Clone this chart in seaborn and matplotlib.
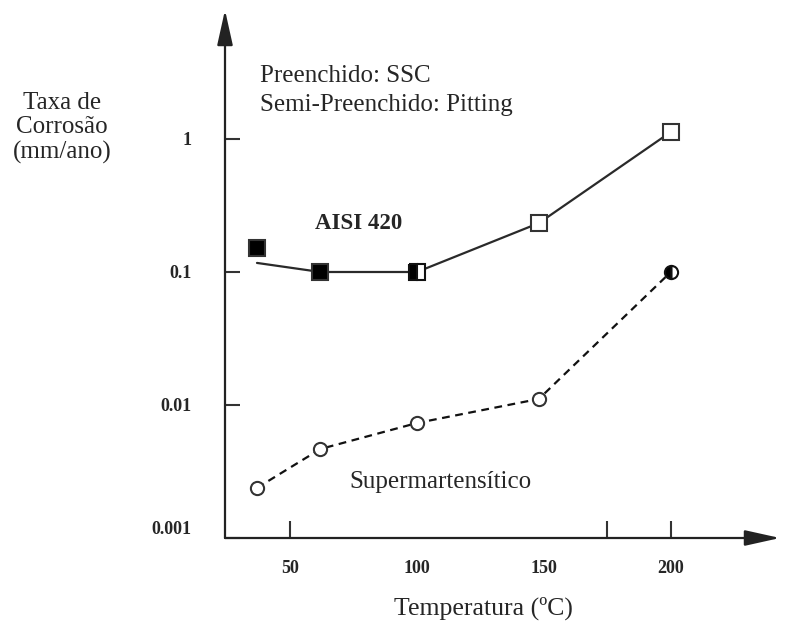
import matplotlib
matplotlib.use("Agg")
import matplotlib.pyplot as plt
import seaborn as sns
import pandas as pd

# ---- data ----
temperatura = [37, 62, 100, 148, 200]
aisi420_taxa = [0.151, 0.100, 0.100, 0.233, 1.13]      # marker values
aisi420_curva = [0.117, 0.100, 0.100, 0.233, 1.13]     # drawn trend curve
aisi420_preench = ["cheio", "cheio", "semi", "vazio", "vazio"]
super_taxa = [0.00238, 0.00467, 0.00732, 0.0111, 0.100]
super_preench = ["vazio", "vazio", "vazio", "vazio", "semi"]
x_ticks = [50, 100, 150, 200]
x_marks = [50, 175, 200]
y_ticks = [0.001, 0.01, 0.1, 1]
y_tick_labels = ["0.001", "0.01", "0.1", "1"]

sns.set_theme(style="white")
plt.rcParams["font.family"] = ["Liberation Serif", "DejaVu Serif"]

W, H = 787, 628
fig = plt.figure(figsize=(W / 100, H / 100), dpi=100)
L, R, B, T = 225, 780, 538, 10
ax = fig.add_axes([L / W, 1 - B / H, (R - L) / W, (B - T) / H])
ax.set_yscale("log")
ax.set_xlim(24.4, 243)
ax.set_ylim(1e-3, 9.33)
for s in ax.spines.values():
    s.set_visible(False)

df_a = pd.DataFrame({"T": temperatura, "curva": aisi420_curva})
df_s = pd.DataFrame({"T": temperatura, "taxa": super_taxa})
sns.lineplot(data=df_a, x="T", y="curva", ax=ax, color="#2a2a2a", lw=1.6, sort=False)
sns.lineplot(data=df_s, x="T", y="taxa", ax=ax, color="#111111", lw=1.6,
             linestyle=(0, (3.5, 2.5)), sort=False)
ax.set_xlabel("")
ax.set_ylabel("")

def draw_marker(x, y, kind, marker, size):
    if kind == "semi":
        ax.plot([x], [y], marker=marker, ms=size, fillstyle="left",
                markerfacecolor="black", markerfacecoloralt="white",
                markeredgecolor="#111111", mew=1.5, ls="none", zorder=5)
    else:
        fc = "black" if kind == "cheio" else "white"
        ax.plot([x], [y], marker=marker, ms=size, markerfacecolor=fc,
                markeredgecolor="#333333", mew=1.5, ls="none", zorder=5)

for x, y, k in zip(temperatura, aisi420_taxa, aisi420_preench):
    draw_marker(x, y, k, "s", 11.5)
for x, y, k in zip(temperatura, super_taxa, super_preench):
    draw_marker(x, y, k, "o", 9.5)

# axes arrows
arrow_kw = dict(arrowstyle="-|>,head_length=1.8,head_width=0.4", color="#222222",
                lw=1.6, shrinkA=0, shrinkB=0)
ax.annotate("", xy=(0, 1), xytext=(0, 0), xycoords="axes fraction", arrowprops=arrow_kw)
ax.annotate("", xy=(1, 0), xytext=(0, 0), xycoords="axes fraction", arrowprops=arrow_kw)

# ticks
ax.xaxis.remove_overlapping_locs = False
ax.set_xticks(x_ticks)
ax.set_xticklabels([str(v) for v in x_ticks], fontsize=13, fontweight="bold")
ax.set_xticks(x_marks, minor=True)
ax.tick_params(axis="x", which="major", length=0, pad=16, bottom=True)
ax.tick_params(axis="x", which="minor", direction="in", length=12, width=1.5,
               color="#333333", bottom=True)
ax.set_yticks(y_ticks)
ax.yaxis.set_minor_locator(matplotlib.ticker.NullLocator())
ax.set_yticklabels(y_tick_labels, fontsize=13, fontweight="bold")
ax.tick_params(axis="y", which="major", direction="in", length=11, width=1.5,
               color="#333333", pad=24, left=True)
ax.get_yticklabels()[0].set_va("bottom")

def px(x, y):
    return x / W, 1 - y / H

fig.text(*px(62, 128), "Taxa de\nCorrosão\n(mm/ano)", ha="center", va="center",
         fontsize=18, linespacing=1.15)
fig.text(*px(483, 608), "Temperatura (ºC)", ha="center", va="center", fontsize=18.5)
fig.text(*px(260, 76), "Preenchido: SSC", ha="left", va="center", fontsize=18)
fig.text(*px(260, 105), "Semi-Preenchido: Pitting", ha="left", va="center", fontsize=18)
fig.text(*px(359, 224), "AISI 420", ha="center", va="center", fontsize=16.5, fontweight="bold")
fig.text(*px(440, 482), "Supermartensítico", ha="center", va="center", fontsize=18)

fig.savefig("out.png", dpi=100)
